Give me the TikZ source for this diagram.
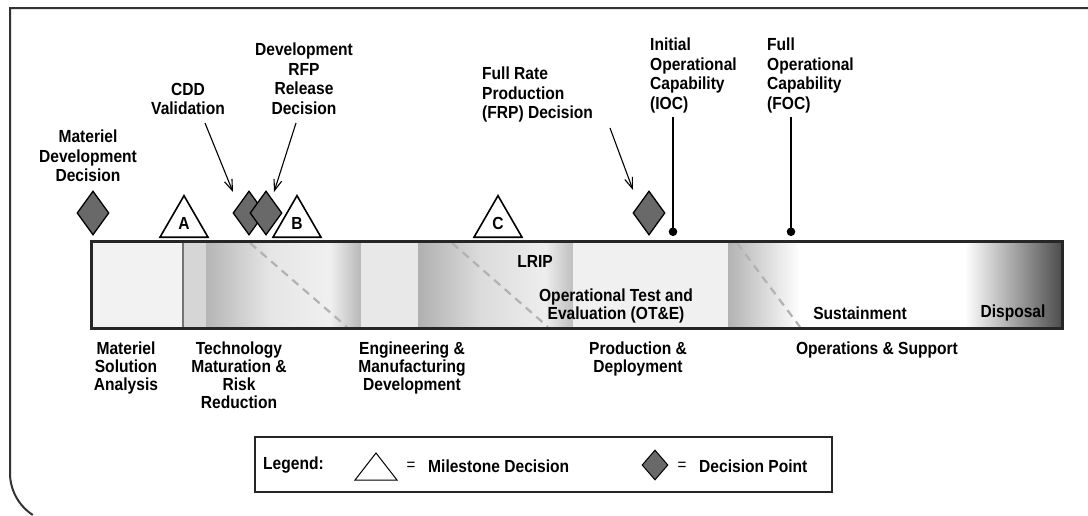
\documentclass[tikz,border=0pt]{standalone}
\usepackage{fontspec}
\setmainfont{Liberation Sans}[FakeStretch=0.89]
\usetikzlibrary{shapes.geometric,arrows.meta}
\definecolor{dpgray}{HTML}{696969}
\definecolor{framegray}{HTML}{333333}
\tikzset{
  lbl/.style={font=\fontsize{17.5}{18}\selectfont\bfseries, align=center, inner sep=0pt},
  toplbl/.style={lbl, font=\fontsize{17.5}{19.5}\selectfont\bfseries},
  dpoint/.style={diamond, draw, line width=1.3pt, fill=dpgray, minimum width=32pt, minimum height=44pt, inner sep=0pt},
  milestone/.style={regular polygon, regular polygon sides=3, draw, line width=1.6pt, fill=white,
    minimum size=55.4pt, inner sep=0pt, anchor=south, font=\fontsize{17.5}{17.5}\selectfont\bfseries},
  callout/.style={line width=1.1pt, -{Straight Barb[length=11pt,width=8pt]}},
  capline/.style={line width=1.4pt, -{Circle[length=8.5pt]}},
  overlap/.style={black!30, line width=2.2pt, dash pattern=on 8pt off 6pt},
  eqsign/.style={font=\fontsize{17}{17}\selectfont, inner sep=0pt}
}
\begin{document}
\begin{tikzpicture}[x=1pt,y=-1pt]
\useasboundingbox (0,0) rectangle (1088,515);
% outer frame
\draw[framegray, line width=2pt] (1088,8) -- (10,8) -- (10,473) arc[start angle=180, end angle=123, radius=50];
% phase bar
\foreach \xa/\xb/\ca/\cb in {
  91/183/5/5,
  183/206/16/16,
  206/270/29/10,
  270/330/10/6,
  330/361/6/28,
  361/418/9/9,
  418/480/31/14,
  480/545/14/7,
  545/573/7/25,
  573/728/6/6,
  728/800/30/0,
  800/965/0/0,
  965/1062/0/70%
}
\shade[left color=black!\ca, right color=black!\cb] (\xa,241) rectangle (\xb,328);
\draw[black!55, line width=2pt] (183,241) -- (183,328);
\foreach \xa/\xb in {250/347, 452/548, 737/800}
\draw[overlap] (\xa,243) -- (\xb,327);
\draw[black!85, line width=3pt] (91,241) rectangle (1062,328);
% texts inside the bar
\node[lbl] (lrip) at (535,261) {LRIP};
\node[lbl] (ote) at (616,306) {\fontsize{17.5}{17}\selectfont Operational Test and\\Evaluation (OT\&E)};
\node[lbl] (sust) at (860,313) {Sustainment};
\node[lbl] (disp) at (1013,313) {Disposal};
% phase names
\foreach \x/\nm/\txt in {
  126/msa/{Materiel\\Solution\\Analysis},
  239/tmrr/{Technology\\Maturation \&\\Risk\\Reduction},
  412/emd/{Engineering \&\\Manufacturing\\Development},
  638/pd/{Production \&\\Deployment},
  877/os/{Operations \& Support}%
}
\node[lbl, anchor=north] (\nm) at (\x,342) {\txt};
% decision points
\node[dpoint] (dmdd) at (93,213) {};
\node[dpoint] (dcdd) at (249,213) {};
\node[dpoint] (drfp) at (266,213) {};
\node[dpoint] (dfrp) at (649,213) {};
% milestones
\node[milestone] (msA) at (184,238) {A};
\node[milestone] (msB) at (297,238) {B};
\node[milestone] (msC) at (498,238) {C};
% labels above
\node[toplbl, anchor=north] (mdd) at (88,130) {Materiel\\Development\\Decision};
\node[toplbl, anchor=north] (cdd) at (188,83) {CDD\\Validation};
\node[toplbl, anchor=north] (rfp) at (304,43) {Development\\RFP\\Release\\Decision};
\node[toplbl, anchor=north west, align=left] (frp) at (482,67) {Full Rate\\Production\\(FRP) Decision};
\node[toplbl, anchor=north west, align=left] (ioc) at (650,38) {Initial\\Operational\\Capability\\(IOC)};
\node[toplbl, anchor=north west, align=left] (foc) at (767,38) {Full\\Operational\\Capability\\(FOC)};
% callouts
\coordinate (cddtail) at (205,123);
\coordinate (cddtip) at (233,192);
\coordinate (rfptail) at (296,123);
\coordinate (rfptip) at (274,192);
\coordinate (frptail) at (610,128);
\coordinate (frptip) at (633,190);
\draw[callout] (cddtail) -- (cddtip);
\draw[callout] (rfptail) -- (rfptip);
\draw[callout] (frptail) -- (frptip);
\coordinate (ioctop) at (673,117);
\coordinate (iocdot) at (673,236);
\coordinate (foctop) at (791,117);
\coordinate (focdot) at (791,236);
\draw[capline] (ioctop) -- (iocdot);
\draw[capline] (foctop) -- (focdot);
% legend
\node[draw, black!85, line width=2pt, minimum width=577pt, minimum height=55pt, inner sep=0pt] (legend) at (543.5,464.5) {};
\node[lbl, anchor=west] (legtitle) at (263,465) {Legend:};
\draw[line width=1pt] (355,480) -- (376,453) -- (397,480) -- cycle;
\node[eqsign] (eqms) at (411,466) {=};
\node[lbl, anchor=west] (legms) at (428,466) {Milestone Decision};
\node[dpoint, line width=1pt, minimum width=26pt, minimum height=30pt] (legdp) at (655,465) {};
\node[eqsign] (eqdp) at (682,466) {=};
\node[lbl, anchor=west] (legdptxt) at (699,466) {Decision Point};
\end{tikzpicture}
\end{document}
